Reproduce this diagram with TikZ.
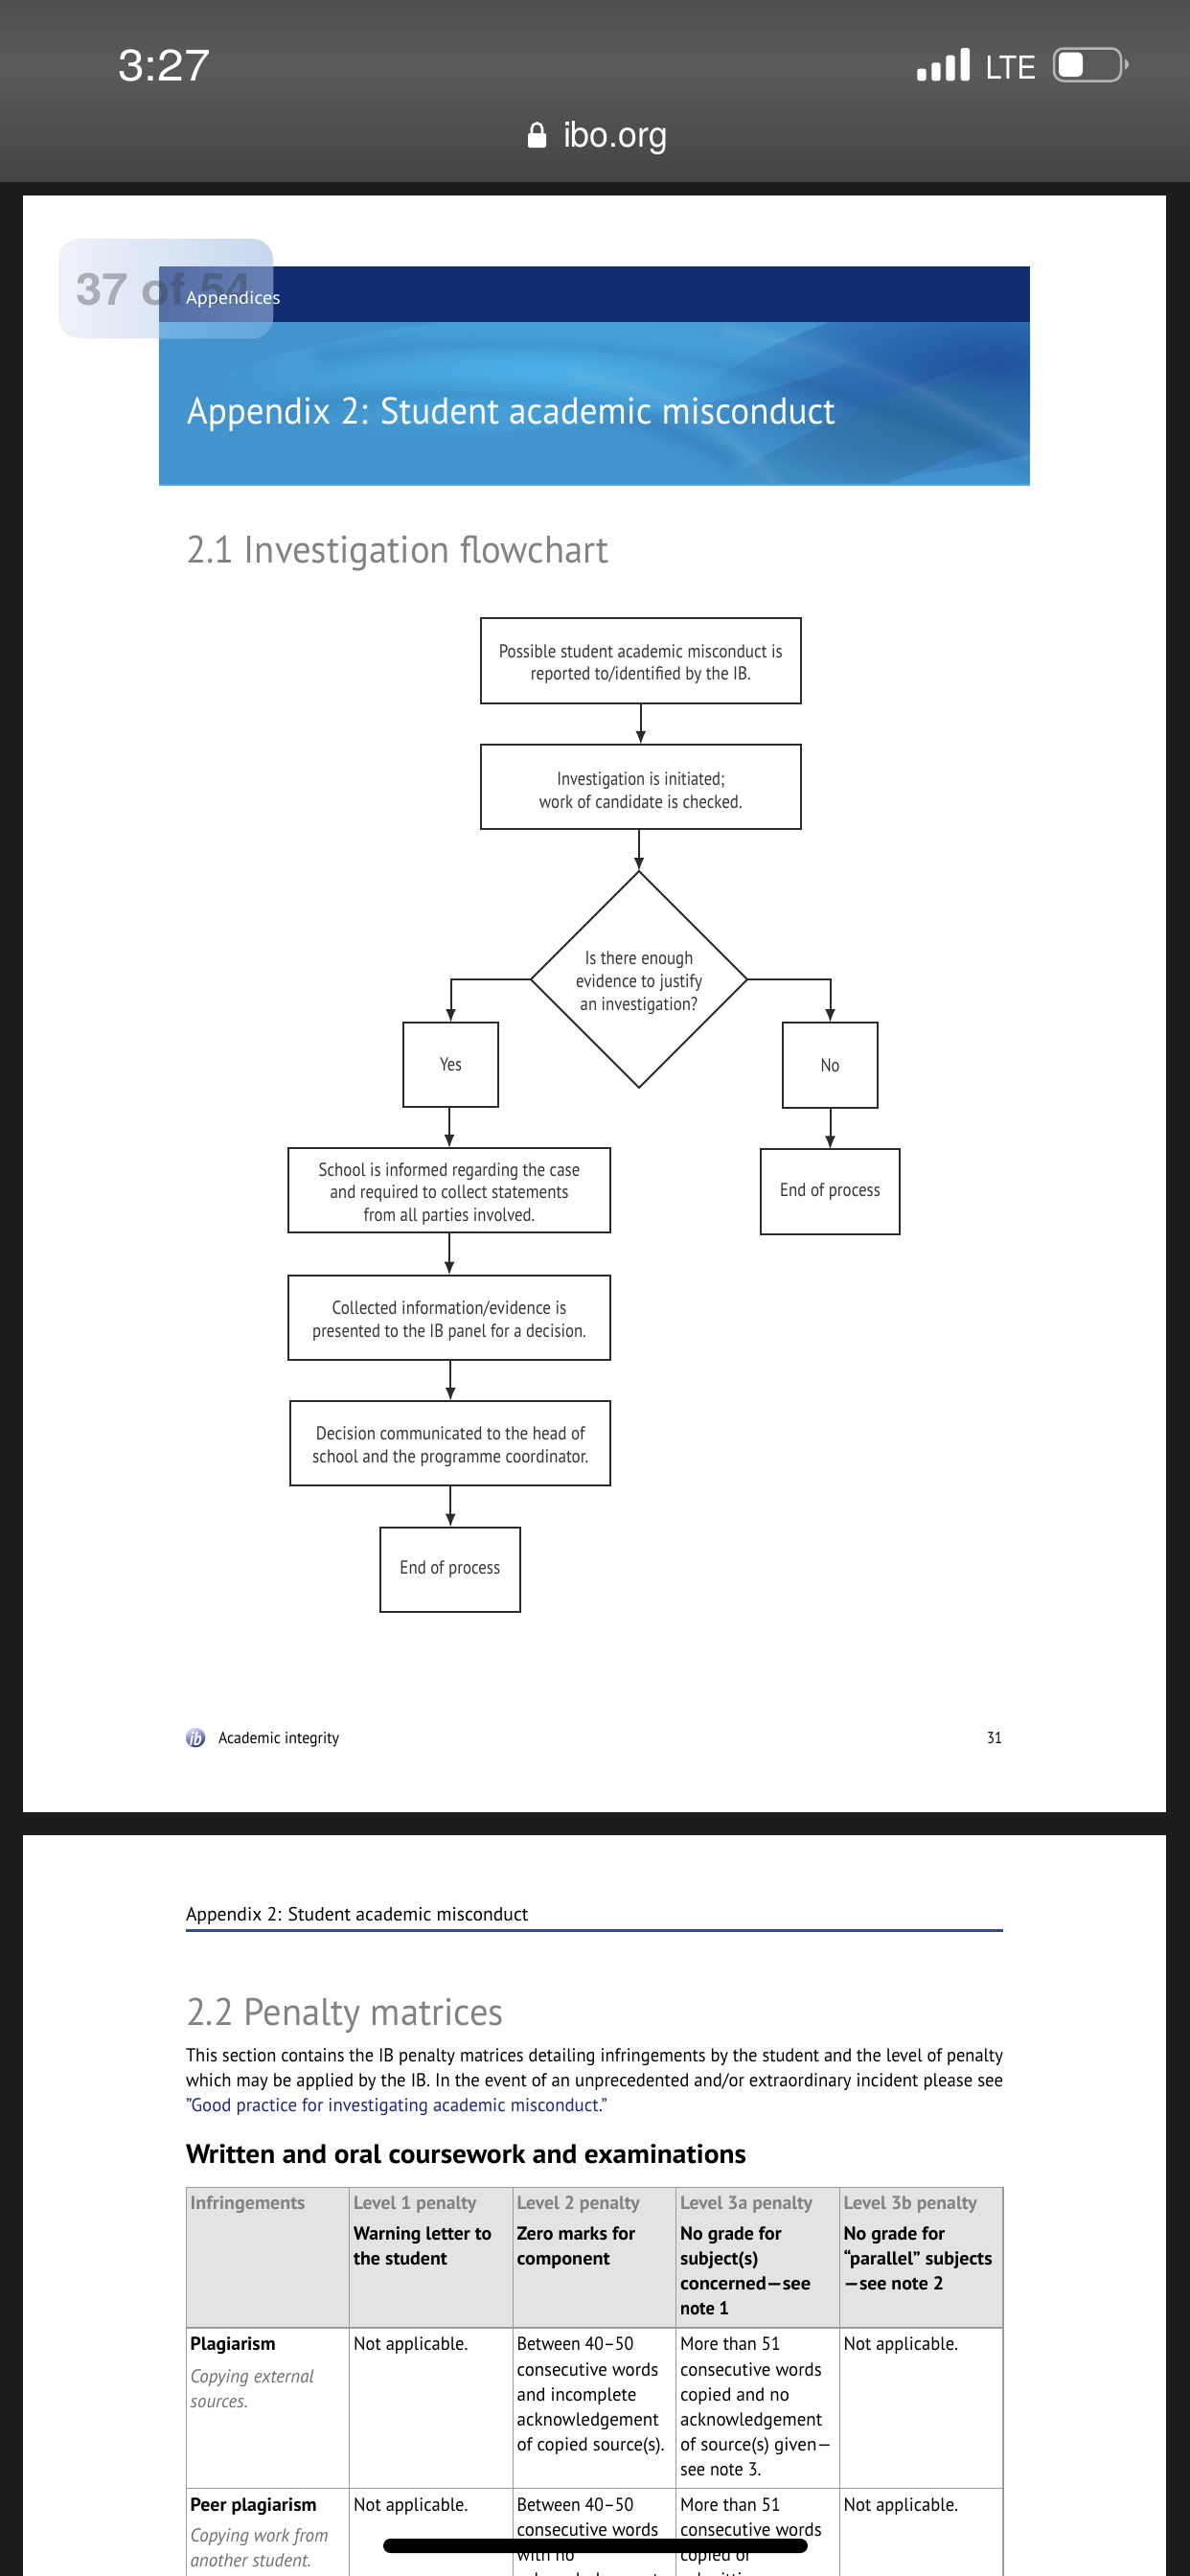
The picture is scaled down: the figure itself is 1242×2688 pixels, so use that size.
\documentclass[tikz,border=0pt]{standalone}
\usepackage{graphicx}
\usepackage{fontspec}
\setmainfont{PT Sans}
\newfontfamily\statusfont{TeX Gyre Heros}
\usetikzlibrary{arrows.meta,shapes.geometric,fadings}
\definecolor{pagebg}{HTML}{1B1C1E}
\definecolor{barmid}{HTML}{5B5B5B}
\definecolor{bartop}{HTML}{4F4F4F}
\definecolor{barbot}{HTML}{444444}
\definecolor{bandnavy}{HTML}{0F2D70}
\definecolor{bannerbase}{HTML}{4394CD}
\definecolor{headgray}{HTML}{808285}
\definecolor{flowink}{HTML}{2B2B2B}
\definecolor{flowtext}{HTML}{333333}
\definecolor{linkblue}{HTML}{1D2A7A}
\definecolor{rulenavy}{HTML}{2F4C8F}
\definecolor{cellgray}{HTML}{E3E3E3}
\definecolor{gridgray}{HTML}{9A9A9A}
\definecolor{italgray}{HTML}{6D6E71}
\newsavebox\fitbox
\newcommand\fitw[2]{\sbox\fitbox{#2}\pgfmathsetmacro\fitr{#1/\wd\fitbox}\scalebox{\fitr}[1]{\usebox\fitbox}}
\newcommand\fs[1]{\fontsize{#1}{#1}\selectfont}
\newcommand\uprule{\rule{0pt}{21pt}}
\newcounter{tc}
\newcommand\tx[5]{\stepcounter{tc}\node[tl,#4] (t\arabic{tc}) at (#1,#2) {\fitw{#3}{#5}};}
\tikzfading[name=softblob, inner color=transparent!0, outer color=transparent!100]
\tikzset{
  tl/.style={anchor=base west,inner sep=0pt,outer sep=0pt},
  body/.style={font=\fs{19.5},text=black},
  boldcell/.style={font=\fs{19.5}\bfseries,text=black},
  graycell/.style={font=\fs{19.5}\bfseries,text=headgray},
  italcell/.style={font=\fs{19.5}\itshape,text=italgray},
  heading/.style={font=\fs{40},text=headgray},
  flowbox/.style={draw=flowink,line width=2pt,fill=white,align=center,inner sep=0pt,outer sep=0pt,
    text=flowtext,font=\fontsize{19.5}{23.7}\selectfont},
  flowdiamond/.style={flowbox,shape=diamond,aspect=1,minimum width=226pt,minimum height=226pt},
  flowarrow/.style={draw=flowink,line width=2pt,-{Latex[length=14pt,width=11pt]}},
  swoosh/.style={line cap=round,draw=#1}
}
\begin{document}
\begin{tikzpicture}[x=1pt,y=-1pt]
\useasboundingbox (0,0) rectangle (1242,2688);
\clip (0,0) rectangle (1242,2688);
% background and pages
\fill[pagebg] (0,0) rectangle (1242,2688);
\fill[white] (24,204) rectangle (1217,1891);
\fill[white] (24,1915) rectangle (1217,2688);
% status bar
\shade[top color=bartop,bottom color=barmid] (0,0) rectangle (1242,70);
\shade[top color=barmid,bottom color=barbot] (0,70) rectangle (1242,189);
\tx{123}{84}{97}{font=\statusfont\fs{46},text=white}{3:27}
\fill[white,rounded corners=2.5pt] (957.3,71.7) rectangle (966.7,84.3);
\fill[white,rounded corners=2.5pt] (972.3,65.3) rectangle (981.7,84.3);
\fill[white,rounded corners=2.5pt] (987.3,57.7) rectangle (996.7,84.3);
\fill[white,rounded corners=2.5pt] (1002.7,50) rectangle (1012,84.3);
\tx{1028.7}{82.3}{53}{font=\statusfont\fs{33},text=white}{LTE}
\draw[line width=2.5pt,draw=white!55!barmid,rounded corners=10pt] (1100,50.5) rectangle (1170,84.5);
\fill[white,rounded corners=5pt] (1105,54.5) rectangle (1130,80);
\fill[white!55!barmid,rounded corners=1pt] (1174,61) -- (1178,65) -- (1178,69) -- (1174,73) -- cycle;
% lock and url
\fill[white,rounded corners=2pt] (551,139) rectangle (570,154);
\draw[white,line width=2.6pt] (555,140) -- (555,134) arc[start angle=180,end angle=0,radius=5.5pt] -- (566,140);
\tx{588}{153}{109}{font=\statusfont\fs{37},text=white}{ibo.org}
% banner
\fill[bandnavy] (166,278) rectangle (1075,336);
\begin{scope}
\clip (166,336) rectangle (1075,506.5);
\fill[bannerbase] (166,336) rectangle (1075,507);
\fill[color={rgb,255:red,30;green,80;blue,155},path fading=softblob,rotate around={12:(1040,385)}] (1040,385) ellipse[x radius=340pt,y radius=95pt];
\fill[color={rgb,255:red,76;green,176;blue,230},path fading=softblob,rotate around={6:(560,385)}] (560,385) ellipse[x radius=360pt,y radius=62pt];
\fill[color={rgb,255:red,50;green,115;blue,165},path fading=softblob,rotate around={22:(950,450)}] (950,450) ellipse[x radius=240pt,y radius=42pt];
\foreach \w/\o in {34/.025,24/.025,14/.03,6/.03}{
  \draw[swoosh=bandnavy,line width=\w pt,opacity=\o] (340,372) .. controls (600,335) and (850,380) .. (1075,490);
  \draw[swoosh=bandnavy,line width=\w pt,opacity=\o] (300,425) .. controls (520,395) and (650,415) .. (760,480);
}
\foreach \w/\o in {22/.025,12/.025,5/.03}{
  \draw[swoosh=white,line width=\w pt,opacity=\o] (600,392) .. controls (720,410) and (760,450) .. (810,505);
  \draw[swoosh=white,line width=\w pt,opacity=\o] (760,345) .. controls (900,370) and (990,420) .. (1075,470);
}
\end{scope}
\draw[color={rgb,255:red,90;green,170;blue,225},line width=1.5pt] (166,506) -- (1075,506);
% page counter overlay
\shade[left color={rgb,255:red,238;green,242;blue,250},right color={rgb,255:red,198;green,215;blue,238},rounded corners=22pt] (61,249) rectangle (285,353);
\begin{scope}
\clip[rounded corners=22pt] (61,249) rectangle (285,353);
\shade[left color={rgb,255:red,82;green,110;blue,165},right color={rgb,255:red,100;green,128;blue,180}] (166,278) rectangle (285,336);
\shade[left color={rgb,255:red,112;green,178;blue,226},right color={rgb,255:red,102;green,165;blue,218}] (166,336) rectangle (285,353);
\end{scope}
\tx{79}{318}{184}{font=\statusfont\fs{46}\bfseries,text={rgb,255:red,60;green,60;blue,65},opacity=.36}{37 of 54}
\tx{194}{317}{99}{font=\fs{19},text=white}{Appendices}
\tx{195}{442}{677}{font=\fs{39},text=white}{Appendix 2: Student academic misconduct}
\tx{194}{587}{442}{heading}{2.1 Investigation flowchart}
% flowchart
\node[flowbox,minimum width=334.5pt,minimum height=89pt] (report) at (668.8,689.5) {\uprule\fitw{296}{Possible student academic misconduct is}\\\fitw{230}{reported to/identified by the IB.}};
\node[flowbox,minimum width=334.5pt,minimum height=88.5pt] (initiate) at (668.8,821.2) {\uprule\fitw{175}{Investigation is initiated;}\\\fitw{211.7}{work of candidate is checked.}};
\node[flowdiamond] (enough) at (667,1022) {\uprule\fitw{113}{Is there enough}\\\fitw{132}{evidence to justify}\\\fitw{122.6}{an investigation?}};
\node[flowbox,minimum width=99pt,minimum height=88pt] (yes) at (470.5,1111) {\fitw{23}{Yes}};
\node[flowbox,minimum width=99pt,minimum height=89pt] (no) at (866.5,1111.5) {\fitw{20}{No}};
\node[flowbox,minimum width=335.2pt,minimum height=88.5pt] (school) at (469,1242.2) {\uprule\fitw{272.7}{School is informed regarding the case}\\\fitw{249}{and required to collect statements}\\\fitw{178.6}{from all parties involved.}};
\node[flowbox,minimum width=145pt,minimum height=88.5pt] (endright) at (866.5,1243.7) {\fitw{104.7}{End of process}};
\node[flowbox,minimum width=335.2pt,minimum height=88.2pt] (collected) at (469,1374.7) {\uprule\fitw{244.7}{Collected information/evidence is}\\\fitw{285.6}{presented to the IB panel for a decision.}};
\node[flowbox,minimum width=334.5pt,minimum height=88.5pt] (decision) at (470.2,1506.2) {\uprule\fitw{280.5}{Decision communicated to the head of}\\\fitw{288.3}{school and the programme coordinator.}};
\node[flowbox,minimum width=145.5pt,minimum height=88.3pt] (endleft) at (469.8,1637.8) {\fitw{104.7}{End of process}};
\draw[flowarrow] (report.south) -- (initiate.north);
\draw[flowarrow] (enough.north |- initiate.south) -- (enough.north);
\draw[flowarrow] (enough.west) -| (yes.north);
\draw[flowarrow] (enough.east) -| (no.north);
\draw[flowarrow] (school.north |- yes.south) -- (school.north);
\draw[flowarrow] (no.south) -- (endright.north);
\draw[flowarrow] (school.south) -- (collected.north);
\draw[flowarrow] (decision.north |- collected.south) -- (decision.north);
\draw[flowarrow] (decision.south) -- (decision.south |- endleft.north);
% footer of page 1
\shade[shading=axis,top color=white!85!blue,bottom color={rgb,255:red,30;green,50;blue,115},shading angle=20] (204,1813) circle[radius=10.3pt];
\tx{197.5}{1821}{13}{font=\fs{20}\bfseries\itshape,text=white}{ib}
\tx{228}{1819}{126}{font=\fs{17},text=black}{Academic integrity}
\tx{1030}{1819}{16}{font=\fs{17},text=black}{31}
% page 2 header
\tx{194}{2004}{357.5}{font=\fs{20},text=black}{Appendix 2: Student academic misconduct}
\draw[rulenavy,line width=3pt] (194,2014.7) -- (1047,2014.7);
\tx{194}{2113}{332}{heading}{2.2 Penalty matrices}
\tx{194}{2151}{853}{body}{This section contains the IB penalty matrices detailing infringements by the student and the level of penalty}
\tx{194}{2177}{853}{body}{which may be applied by the IB. In the event of an unprecedented and/or extraordinary incident please see}
\tx{194}{2203}{440}{body,text=linkblue}{"Good practice for investigating academic misconduct."}
\tx{194}{2257}{585}{font=\fs{28}\bfseries,text=black}{Written and oral coursework and examinations}
% table
\fill[cellgray] (194.7,2282.7) rectangle (1047,2429);
\draw[gridgray,line width=1.5pt] (194.7,2700) -- (194.7,2282.7) -- (1047,2282.7) -- (1047,2700);
\draw[gridgray,line width=1.5pt] (194.7,2429) -- (1047,2429);
\draw[gridgray,line width=1.5pt] (194.7,2596.7) -- (1047,2596.7);
\foreach \vx in {364.6,535.7,705.6,876.7}{\draw[gridgray,line width=1.2pt] (\vx,2282.7) -- (\vx,2700);}
\tx{198.7}{2305}{120}{graycell}{Infringements}
\tx{369.2}{2305}{128}{graycell}{Level 1 penalty}
\tx{539.7}{2305}{128}{graycell}{Level 2 penalty}
\tx{710.2}{2305}{137.8}{graycell}{Level 3a penalty}
\tx{880.7}{2305}{139}{graycell}{Level 3b penalty}
\tx{369.2}{2337}{144}{boldcell}{Warning letter to}
\tx{369.2}{2363}{97.6}{boldcell}{the student}
\tx{539.7}{2337}{123.4}{boldcell}{Zero marks for}
\tx{539.7}{2363}{97}{boldcell}{component}
\tx{710.2}{2337}{105.6}{boldcell}{No grade for}
\tx{710.2}{2363}{81.5}{boldcell}{subject(s)}
\tx{710.2}{2389}{136}{boldcell}{concerned—see}
\tx{710.2}{2415}{51}{boldcell}{note 1}
\tx{880.7}{2337}{105.6}{boldcell}{No grade for}
\tx{880.7}{2363}{155}{boldcell}{“parallel” subjects}
\tx{880.7}{2389}{104.5}{boldcell}{—see note 2}
\tx{198.7}{2452}{89}{boldcell}{Plagiarism}
\tx{198.7}{2486}{129}{italcell}{Copying external}
\tx{198.7}{2512}{60}{italcell}{sources.}
\tx{369.2}{2452}{119.4}{body}{Not applicable.}
\tx{539.7}{2452}{121.7}{body}{Between 40–50}
\tx{539.7}{2479}{147.5}{body}{consecutive words}
\tx{539.7}{2505}{124.6}{body}{and incomplete}
\tx{539.7}{2531}{148}{body}{acknowledgement}
\tx{539.7}{2557}{154}{body}{of copied source(s).}
\tx{710.2}{2452}{104.5}{body}{More than 51}
\tx{710.2}{2479}{147.5}{body}{consecutive words}
\tx{710.2}{2505}{113.7}{body}{copied and no}
\tx{710.2}{2531}{148}{body}{acknowledgement}
\tx{710.2}{2557}{158}{body}{of source(s) given—}
\tx{710.2}{2583}{84.4}{body}{see note 3.}
\tx{880.7}{2452}{119.4}{body}{Not applicable.}
\tx{198.7}{2620}{132}{boldcell}{Peer plagiarism}
\tx{198.7}{2652}{144}{italcell}{Copying work from}
\tx{198.7}{2678}{126.3}{italcell}{another student.}
\tx{369.2}{2620}{119.4}{body}{Not applicable.}
\tx{539.7}{2620}{121.7}{body}{Between 40–50}
\tx{539.7}{2646}{147.5}{body}{consecutive words}
\tx{539.7}{2672}{60}{body}{with no}
\tx{539.7}{2698}{148}{body}{acknowledgement}
\tx{710.2}{2620}{104.5}{body}{More than 51}
\tx{710.2}{2646}{147.5}{body}{consecutive words}
\tx{710.2}{2672}{74}{body}{copied or}
\tx{710.2}{2698}{84}{body}{submitting}
\tx{880.7}{2620}{119.4}{body}{Not applicable.}
% home indicator
\fill[black,rounded corners=7.5pt] (400,2649) rectangle (843,2664);
\end{tikzpicture}
\end{document}
